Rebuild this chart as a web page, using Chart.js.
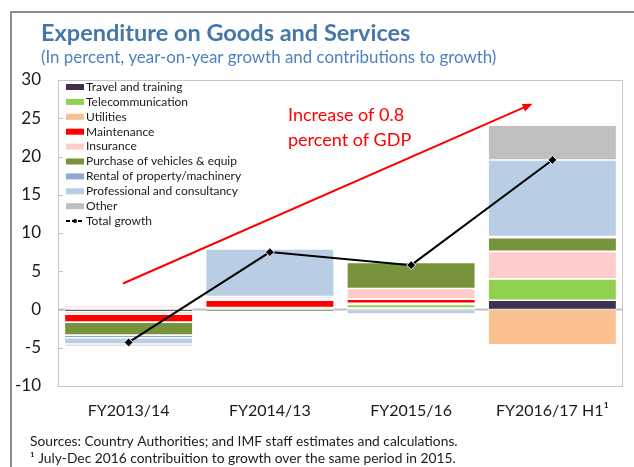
<!DOCTYPE html>
<html>
<head>
<meta charset="utf-8">
<script src="https://cdn.jsdelivr.net/npm/chart.js@4/dist/chart.umd.min.js"></script>
<style>
    html, body { margin: 0; padding: 0; background: #fff; }
    #wrap { width: 634px; height: 467px; position: relative; }
</style>
</head>
<body>
<div id="wrap"><canvas id="goodsChart" width="634" height="467"></canvas></div>
<script>
// categories and tick labels
const categories = ['FY2013/14', 'FY2014/13', 'FY2015/16', 'FY2016/17 H1\u00B9'];
const yTicks = [30, 25, 20, 15, 10, 5, 0, -5, -10];

// contributions to growth, percentage points
const travel       = [-0.3, 0,     0.2,  1.2];
const telecom      = [0.2,  0.1,   0.45, 2.8];
const utilities    = [-0.3, 0.15,  0.15, -4.6];
const maintenance  = [-1.05, 0.95, 0.55, 0];
const insurance    = [0.3,  0.25,  1.4,  3.6];
const purchase     = [-1.7, -0.3,  3.4,  1.8];
const rental       = [-0.35, 0.25, 0.2,  0.15];
const professional = [-0.8, 6.2,   -0.6, 10.0];
const other        = [-0.3, 0,     0,    4.55];
const totalGrowth  = [-4.3, 7.5,   5.8,  19.55];

const FONT = 'Lato, "Open Sans", sans-serif';

function barSet(label, data, color) {
    return {
        type: 'bar',
        label: label,
        data: data,
        backgroundColor: color,
        borderColor: '#ffffff',
        borderWidth: 0.8,
        borderSkipped: false,
        stack: 'parts',
        order: 1,
        categoryPercentage: 1.0,
        barPercentage: 0.91
    };
}

// frame, zero line, inside ticks, legend, arrow, titles
const decorations = {
    id: 'decorations',
    beforeDatasetsDraw(chart) {
        const { ctx, chartArea: a, scales: { y } } = chart;
        ctx.save();
        ctx.strokeStyle = '#c6c6c6';
        ctx.lineWidth = 1;
        ctx.strokeRect(a.left + 0.5, a.top + 0.5, a.right - a.left - 1, a.bottom - a.top);
        yTicks.forEach(v => {
            const py = Math.round(y.getPixelForValue(v)) + 0.5;
            ctx.beginPath();
            ctx.moveTo(a.left, py);
            ctx.lineTo(a.left + 5, py);
            ctx.stroke();
        });
        ctx.strokeStyle = '#c0c0c0';
        ctx.lineWidth = 2;
        const zy = y.getPixelForValue(0);
        ctx.beginPath();
        ctx.moveTo(a.left, zy);
        ctx.lineTo(a.right, zy);
        ctx.stroke();
        ctx.restore();
    },
    afterDraw(chart) {
        const { ctx, chartArea: a, scales: { x, y } } = chart;
        ctx.save();

        // outer frame
        ctx.strokeStyle = '#8c8c8c';
        ctx.lineWidth = 2;
        ctx.beginPath();
        ctx.moveTo(11, chart.height);
        ctx.lineTo(11, 12);
        ctx.lineTo(chart.width, 12);
        ctx.stroke();

        // title block
        ctx.textBaseline = 'middle';
        ctx.textAlign = 'left';
        ctx.fillStyle = '#4677ab';
        ctx.font = 'bold 23.5px ' + FONT;
        ctx.fillText('Expenditure on Goods and Services', 41, 33);
        ctx.fillStyle = '#4f81bd';
        ctx.font = '16.9px ' + FONT;
        ctx.fillText('(In percent, year-on-year growth and contributions to growth)', 41, 58);

        // legend inside plot
        ctx.font = '12px ' + FONT;
        let ly = 87;
        chart.data.datasets.forEach(ds => {
            if (ds.type === 'bar') {
                ctx.fillStyle = ds.backgroundColor;
                ctx.fillRect(66, ly - 3, 18, 6);
            } else {
                ctx.strokeStyle = '#000';
                ctx.lineWidth = 2;
                ctx.setLineDash([4, 2]);
                ctx.beginPath();
                ctx.moveTo(66, ly);
                ctx.lineTo(84, ly);
                ctx.stroke();
                ctx.setLineDash([]);
                ctx.fillStyle = '#000';
                ctx.beginPath();
                ctx.arc(75, ly, 2, 0, Math.PI * 2);
                ctx.fill();
            }
            ctx.fillStyle = '#1a1a1a';
            ctx.fillText(ds.label, 86, ly);
            ly += 14.9;
        });

        // red arrow annotation
        const x0 = x.getPixelForValue(-0.04), y0 = y.getPixelForValue(3.4);
        const x1 = x.getPixelForValue(2.86), y1 = y.getPixelForValue(26.9);
        const ang = Math.atan2(y1 - y0, x1 - x0);
        ctx.strokeStyle = '#ff0000';
        ctx.fillStyle = '#ff0000';
        ctx.lineWidth = 2;
        ctx.beginPath();
        ctx.moveTo(x0, y0);
        ctx.lineTo(x1 - 8 * Math.cos(ang), y1 - 8 * Math.sin(ang));
        ctx.stroke();
        ctx.beginPath();
        ctx.moveTo(x1, y1);
        ctx.lineTo(x1 - 10 * Math.cos(ang) + 4 * Math.sin(ang), y1 - 10 * Math.sin(ang) - 4 * Math.cos(ang));
        ctx.lineTo(x1 - 10 * Math.cos(ang) - 4 * Math.sin(ang), y1 - 10 * Math.sin(ang) + 4 * Math.cos(ang));
        ctx.closePath();
        ctx.fill();
        ctx.font = '18px ' + FONT;
        ctx.fillText('Increase of 0.8', 288, 115);
        ctx.fillText('percent of GDP', 288, 140);

        // sources
        ctx.fillStyle = '#1a1a1a';
        ctx.font = '13.8px ' + FONT;
        ctx.fillText('Sources: Country Authorities; and IMF staff estimates and calculations.', 30, 442);
        ctx.fillText('\u00B9 July-Dec 2016 contribuition to growth over the same period in 2015.', 30, 459);
        ctx.restore();
    }
};

const ctx = document.getElementById('goodsChart').getContext('2d');
const goodsChart = new Chart(ctx, {
    data: {
        labels: categories,
        datasets: [
            barSet('Travel and training', travel, '#403151'),
            barSet('Telecommunication', telecom, '#92d050'),
            barSet('Utilities', utilities, '#fac090'),
            barSet('Maintenance', maintenance, '#ff0000'),
            barSet('Insurance', insurance, '#ffcccc'),
            barSet('Purchase of vehicles & equip', purchase, '#77933c'),
            barSet('Rental of property/machinery', rental, '#8eaad3'),
            barSet('Professional and consultancy', professional, '#b9cde5'),
            barSet('Other', other, '#bfbfbf'),
            {
                type: 'line',
                label: 'Total growth',
                data: totalGrowth,
                stack: 'total',
                order: 0,
                borderColor: '#000000',
                borderWidth: 2,
                pointStyle: 'rectRot',
                pointRadius: 4.5,
                pointBackgroundColor: '#000000',
                pointBorderColor: '#ffffff',
                pointBorderWidth: 1,
                tension: 0
            }
        ]
    },
    options: {
        responsive: false,
        animation: false,
        layout: {
            padding: { top: 80, right: 11, left: 0, bottom: 0 }
        },
        plugins: {
            legend: { display: false },
            tooltip: { enabled: false }
        },
        scales: {
            x: {
                stacked: true,
                offset: true,
                grid: { display: false, drawTicks: false },
                border: { display: false },
                ticks: {
                    color: '#1a1a1a',
                    font: { family: FONT, size: 16 },
                    padding: 15,
                    maxRotation: 0
                },
                afterFit: function(scale) { scale.height = 81; }
            },
            y: {
                stacked: true,
                min: -10,
                max: 30,
                grid: { display: false, drawTicks: false },
                border: { display: false },
                ticks: {
                    stepSize: 5,
                    color: '#1a1a1a',
                    font: { family: FONT, size: 17 },
                    padding: 17
                },
                afterFit: function(scale) { scale.width = 58; }
            }
        }
    },
    plugins: [decorations]
});
</script>
</body>
</html>
